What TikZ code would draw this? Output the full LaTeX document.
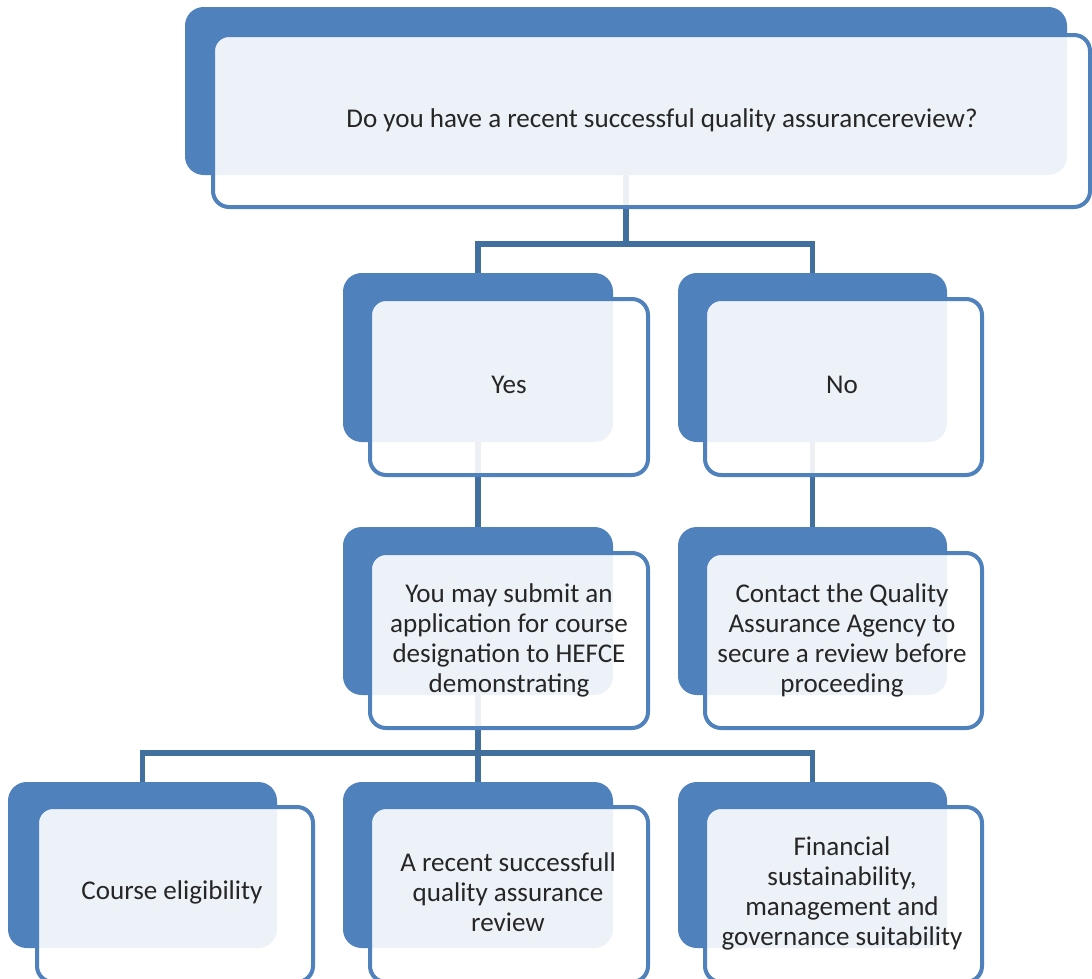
\documentclass[tikz,border=0pt]{standalone}
\usepackage{fontspec}
\setmainfont{Carlito}
\usetikzlibrary{fit,calc}
\definecolor{qblue}{HTML}{4F81BD}
\definecolor{qline}{HTML}{41709F}
\begin{document}
\begin{tikzpicture}[x=0.75pt,y=-0.75pt,
 backbox/.style={fill=qblue, draw=none, rounded corners=14pt, inner sep=0pt},
 frontbox/.style={draw=qblue, line width=3pt, fill=white, fill opacity=0.9, rounded corners=12pt, inner sep=0pt},
 conn/.style={draw=qline, line width=4pt},
 lbl/.style={align=center, font=\fontsize{20.3}{22.5}\selectfont, text=black!85, inner sep=0pt}]
\useasboundingbox[fill=white] (0,0) rectangle (1092,978);
% back boxes
\node[backbox, fit={(185,7)(1067,175)}] (topb) {};
\node[backbox, fit={(343,273)(613,442)}] (yesb) {};
\node[backbox, fit={(678,273)(947,442)}] (nob) {};
\node[backbox, fit={(343,527)(613,695)}] (subb) {};
\node[backbox, fit={(678,527)(947,695)}] (conb) {};
\node[backbox, fit={(8,782)(277,948)}] (crsb) {};
\node[backbox, fit={(343,782)(613,948)}] (recb) {};
\node[backbox, fit={(678,782)(947,948)}] (finb) {};
% connectors
\coordinate (j1) at (626,244);
\coordinate (j2) at (478,753);
\draw[conn] (topb.south) -- (j1) -| (yesb.north);
\draw[conn] (j1) -| (nob.north);
\draw[conn] (yesb.south) -- (subb.north);
\draw[conn] (nob.south) -- (conb.north);
\draw[conn] (subb.south) -- (j2) -| (crsb.north);
\draw[conn] (j2) -- (recb.north);
\draw[conn] (j2) -| (finb.north);
% front boxes
\node[frontbox, fit={(213,35)(1090,207)}] (topf) {};
\node[frontbox, fit={(370,299)(648,475)}] (yesf) {};
\node[frontbox, fit={(705,299)(982,475)}] (nof) {};
\node[frontbox, fit={(370,553)(648,728)}] (subf) {};
\node[frontbox, fit={(705,553)(982,728)}] (conf) {};
\node[frontbox, fit={(37,807)(313,982)}] (crsf) {};
\node[frontbox, fit={(370,807)(648,982)}] (recf) {};
\node[frontbox, fit={(705,807)(982,982)}] (finf) {};
% labels
\node[lbl] (topt) at (662,120) {Do you have a recent successful quality assurancereview?};
\node[lbl] (yest) at (509,385) {Yes};
\node[lbl] (not) at (842,385) {No};
\node[lbl] (subt) at (509,640) {You may submit an\\application for course\\designation to HEFCE\\demonstrating};
\node[lbl] (cont) at (842,640) {Contact the Quality\\Assurance Agency to\\secure a review before\\proceeding};
\node[lbl] (crst) at (172,892) {Course eligibility};
\node[lbl] (rect) at (508,892) {A recent successfull\\quality assurance\\review};
\node[lbl] (fint) at (842,893) {Financial\\sustainability,\\management and\\governance suitability};
\end{tikzpicture}
\end{document}
